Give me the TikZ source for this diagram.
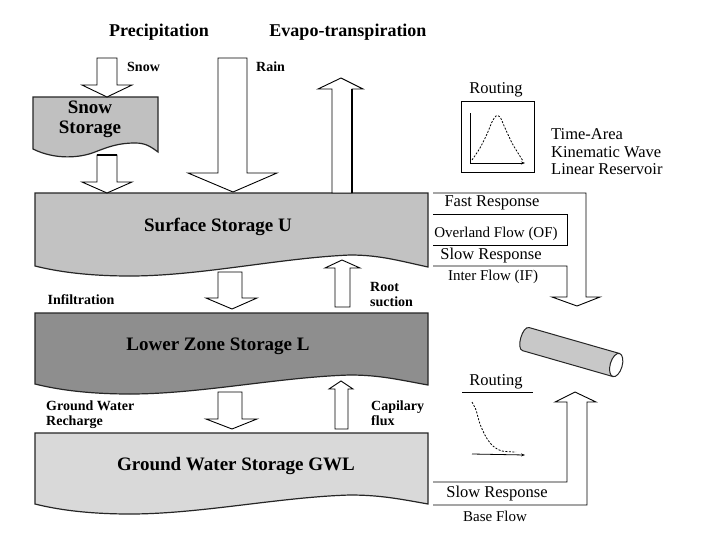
\documentclass[tikz,border=0pt]{standalone}
\usepackage{fontspec}
\setmainfont{Liberation Serif}
\usetikzlibrary{arrows.meta}
\definecolor{surfc}{HTML}{C2C2C2}
\definecolor{lowc}{HTML}{8E8E8E}
\definecolor{gwc}{HTML}{D9D9D9}
\definecolor{snowc}{HTML}{C0C0C0}
\definecolor{pipec}{HTML}{C8C8C8}
\begin{document}
\begin{tikzpicture}[x=1pt,y=-1pt,
  blk/.style={draw=black, line width=0.9pt, fill=white, line join=miter},
  layer/.style={draw=black!85, line width=1.2pt},
  ttl/.style={font=\bfseries\fontsize{18}{20}\selectfont, inner sep=0pt},
  lbl/.style={font=\bfseries\fontsize{14}{16}\selectfont, inner sep=0pt},
  big/.style={font=\bfseries\fontsize{19}{22}\selectfont, inner sep=0pt},
  rt/.style={font=\fontsize{16.5}{19}\selectfont, inner sep=0pt},
  rs/.style={font=\fontsize{15}{17}\selectfont, inner sep=0pt},
  ln/.style={draw=black, line width=0.9pt},
  axis/.style={draw=black, line width=0.8pt, -{Stealth[length=4pt,width=3pt]}},
  curve/.style={draw=black, line width=0.8pt, dash pattern=on 2pt off 1.5pt}
]
\useasboundingbox (0,0) rectangle (718,533);
\fill[white] (0,0) rectangle (718,533);

% titles
\node[ttl] (prec) at (159,32) {Precipitation};
\node[ttl] (evap) at (348,32) {Evapo-transpiration};

% snow storage
\path[layer, fill=snowc] (33,97) -- (158,97) -- (158,152)
  .. controls (150,146) and (145,143) .. (135,143)
  .. controls (118,143) and (108,147) .. (95,152)
  .. controls (80,158) and (55,160) .. (33,149) -- cycle;
\node[big, align=center] (snowst) at (90,119) {Snow\\[-2pt]Storage};

% surface storage
\path[layer, fill=surfc] (35,193) -- (428,193) -- (428,267)
  .. controls (400,261) and (380,255) .. (350,255)
  .. controls (280,258) and (200,276) .. (130,276)
  .. controls (85,276) and (55,271) .. (35,266) -- cycle;
\node[big] (surf) at (218,227) {Surface Storage U};

% lower zone
\path[layer, fill=lowc] (35,313) -- (428,313) -- (428,385)
  .. controls (400,380) and (380,375) .. (350,375)
  .. controls (280,377) and (200,394) .. (130,394)
  .. controls (85,394) and (55,389) .. (35,384) -- cycle;
\node[big] (low) at (218,346) {Lower Zone Storage L};

% ground water
\path[layer, fill=gwc] (35,433) -- (428,433) -- (428,504)
  .. controls (400,499) and (380,495) .. (350,495)
  .. controls (280,497) and (200,514) .. (130,514)
  .. controls (85,514) and (55,509) .. (35,504) -- cycle;
\node[big] (gw) at (236,466) {Ground Water Storage GWL};

% snow arrows
\path[blk] (97,58) -- (97,85) -- (82,85) -- (107,97) -- (132,85) -- (117,85) -- (117,58) -- cycle;
\path[blk] (97,155) -- (97,182) -- (82,182) -- (107,193) -- (132,182) -- (117,182) -- (117,155) -- cycle;
\draw[line width=1.8pt] (97,155) -- (117,155);
\node[lbl, anchor=west] (snowl) at (127,67) {Snow};

% rain arrow
\path[blk] (218,58) -- (218,173) -- (188,173) -- (233,192) -- (277,173) -- (247,173) -- (247,58) -- cycle;
\node[lbl, anchor=west] (rain) at (256,67) {Rain};

% evapo arrow
\path[blk] (332,193) -- (332,89) -- (318,89) -- (341,78) -- (363,89) -- (352,89) -- (352,193) -- cycle;
\draw[line width=2pt] (352,89) -- (352,193);

% infiltration
\path[blk] (218,272) -- (218,298) -- (206,298) -- (232,309) -- (257,298) -- (242,298) -- (242,272) -- cycle;
\node[lbl] (infl) at (81,300) {Infiltration};

% root suction
\path[blk] (335,307) -- (335,268) -- (325,268) -- (342,260) -- (360,268) -- (350,268) -- (350,307) -- cycle;
\node[lbl, anchor=west, align=left] (root) at (370,294) {Root\\[-1pt]suction};

% ground water recharge
\path[blk] (218,392) -- (218,419) -- (206,419) -- (232,429) -- (257,419) -- (242,419) -- (242,392) -- cycle;
\node[lbl, anchor=west, align=left] (gwr) at (46,415) {Ground Water\\[-1pt]Recharge};

% capilary flux
\path[blk] (335,429) -- (335,389) -- (329,389) -- (341,381) -- (353,389) -- (348,389) -- (348,429) -- cycle;
\node[lbl, anchor=west, align=left] (cap) at (371,413) {Capilary\\[-1pt]flux};

% routing box top
\node[rt] (rout1) at (496,90) {Routing};
\draw[line width=0.9pt] (461,101) rectangle (534,172);
\draw[axis] (470,113) -- (470,163) -- (525,163);
\draw[curve] plot[smooth] coordinates {(472,160) (480,148) (487,134) (492,122) (496,116) (500,117) (505,128) (512,143) (518,153) (523,161)};
\node[rt, anchor=west, align=left] (methods) at (551,152) {Time-Area\\[-1.5pt]Kinematic Wave\\[-1.5pt]Linear Reservoir};

% fast / slow response arrow
\path[ln, fill=white] (433,193) -- (586,193) -- (586,297) -- (600,297) -- (577,306) -- (552,297) -- (567,297) -- (567,266) -- (433,266);
\path[ln] (433,214) -- (567,214) -- (567,245) -- (433,245);
\node[rt] (fast) at (492,203) {Fast Response};
\node[rs] (olf) at (496,234) {Overland Flow (OF)};
\node[rt] (slow1) at (491,256) {Slow Response};
\node[rs] (ifl) at (493,277) {Inter Flow (IF)};

% pipe
\begin{scope}[shift={(522,338)}, rotate=-16]
  \path[draw=black!85, line width=1pt, fill=pipec] (98,-12) -- (4,-12) .. controls (-3,-12) and (-3,12) .. (4,12) -- (98,12) -- cycle;
  \path[draw=black!85, line width=1pt, fill=white] (98,0) ellipse [x radius=6, y radius=12];
\end{scope}

% routing bottom
\node[rt] (rout2) at (496,382) {Routing};
\draw[line width=0.9pt] (462,392) -- (533,392);
\draw[curve] plot[smooth] coordinates {(472,402) (476,410) (480,424) (486,437) (493,446) (502,451) (516,452)};
\draw[axis] (472,454) -- (525,455);

% base flow arrow
\path[ln, fill=white] (433,505) -- (587,505) -- (587,402) -- (596,402) -- (575,392) -- (555,402) -- (567,402) -- (567,482) -- (433,482);
\node[rt] (slow2) at (497,494) {Slow Response};
\node[rs] (base) at (495,516) {Base Flow};
\end{tikzpicture}
\end{document}
